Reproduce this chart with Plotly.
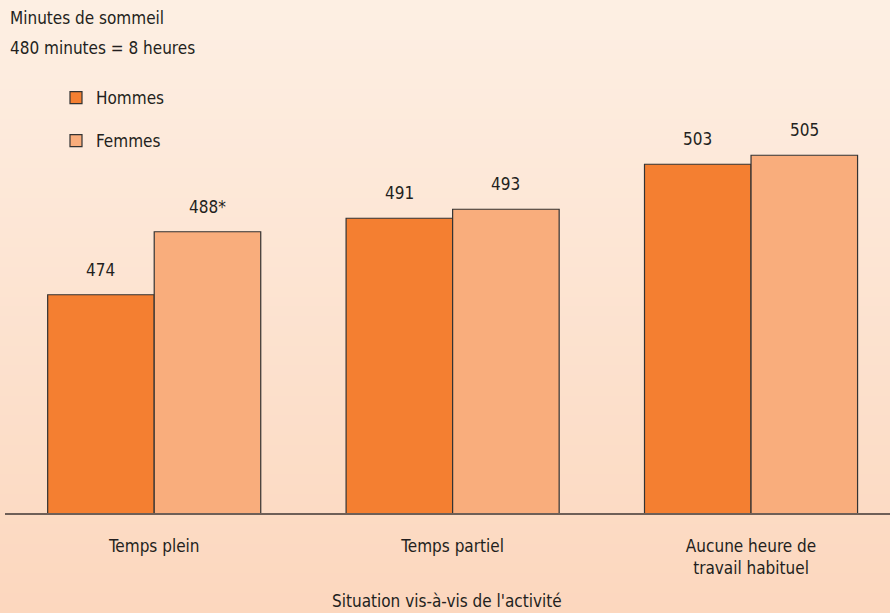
import plotly.graph_objects as go

categories = ["Temps plein", "Temps partiel", "Aucune heure de<br>travail habituel"]
series_names = ["Hommes", "Femmes"]
hommes = [474, 491, 503]
femmes = [488, 493, 505]
label_hommes = ["474", "491", "503"]
label_femmes = ["488*", "493", "505"]

FONT = "DejaVu Sans Condensed, Liberation Sans Narrow, Arial Narrow, sans-serif"
TXT = "#231f20"
C_H = "#F47F31"
C_F = "#F9AD7C"

W, H = 890, 613
ML, MR, MT, MB = 5, 0, 0, 100
plot_h = H - MT - MB
plot_w = W - ML - MR

x_idx = list(range(len(categories)))
fig = go.Figure()
fig.add_trace(go.Bar(x=x_idx, y=hommes, name=series_names[0], legendgroup="h",
                     marker=dict(color=C_H, line=dict(color="#333333", width=1.2))))
fig.add_trace(go.Bar(x=x_idx, y=femmes, name=series_names[1], legendgroup="f",
                     marker=dict(color=C_F, line=dict(color="#333333", width=1.2))))

bargap = 0.286
half = (1 - bargap) / 4
anns = []
for i in x_idx:
    anns.append(dict(x=i - half, y=hommes[i], xref="x", yref="y", text=label_hommes[i], showarrow=False,
                     yanchor="middle", yshift=25, font=dict(family=FONT, size=17, color=TXT)))
    anns.append(dict(x=i + half, y=femmes[i], xref="x", yref="y", text=label_femmes[i], showarrow=False,
                     yanchor="middle", yshift=25, font=dict(family=FONT, size=17, color=TXT)))

def py(p):
    return (H - MB - p) / plot_h

def px(p):
    return (p - ML) / plot_w

anns.append(dict(x=px(8), y=py(18), xref="paper", yref="paper", text="Minutes de sommeil", showarrow=False,
                 xanchor="left", yanchor="middle", font=dict(family=FONT, size=17, color=TXT)))
anns.append(dict(x=px(8), y=py(48), xref="paper", yref="paper", text="480 minutes = 8 heures", showarrow=False,
                 xanchor="left", yanchor="middle", font=dict(family=FONT, size=17, color=TXT)))
anns.append(dict(x=px(447), y=py(601), xref="paper", yref="paper", text="Situation vis-à-vis de l'activité", showarrow=False,
                 xanchor="center", yanchor="middle", font=dict(family=FONT, size=17, color=TXT)))

# background vertical gradient (styling)
shapes = []
top = (253, 239, 227)
bot = (252, 215, 190)
n = 62
for k in range(n):
    t = k / (n - 1)
    c = tuple(round(top[j] + (bot[j] - top[j]) * t) for j in range(3))
    p0 = H * k / n
    p1 = H * (k + 1) / n + 1
    shapes.append(dict(type="rect", xref="paper", yref="paper", x0=px(-10), x1=px(W + 10), y0=py(p1), y1=py(p0),
                       fillcolor="rgb(%d,%d,%d)" % c, line=dict(width=0), layer="below"))

fig.update_layout(
    width=W, height=H,
    margin=dict(l=ML, r=MR, t=MT, b=MB),
    paper_bgcolor="rgb(253,228,210)",
    plot_bgcolor="rgba(0,0,0,0)",
    barmode="group", bargap=bargap, bargroupgap=0,
    shapes=shapes,
    annotations=anns,
    showlegend=True,
    legend=dict(x=px(56), y=py(80), xanchor="left", yanchor="top", bgcolor="rgba(0,0,0,0)",
                font=dict(family=FONT, size=17, color=TXT), tracegroupgap=18, traceorder="grouped",
                itemwidth=30),
    font=dict(family=FONT, size=17, color=TXT),
)
fig.update_xaxes(range=[-0.5, (W - 154) / 298.5], tickvals=x_idx, ticktext=categories, showline=True,
                 linecolor="#6e5f57", linewidth=1.5, showgrid=False, zeroline=False, ticks="",
                 tickfont=dict(family=FONT, size=17, color=TXT), fixedrange=True, ticklabelstandoff=17)
fig.update_yaxes(range=[425.5, 425.5 + plot_h / 4.5], visible=False, showgrid=False, fixedrange=True)

fig.write_html("out.html")
